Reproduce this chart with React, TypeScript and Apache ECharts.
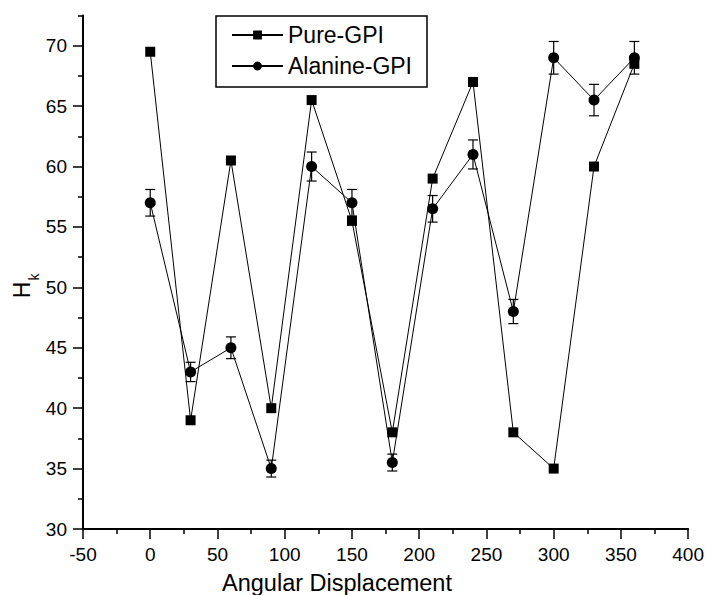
import React, { useEffect, useRef } from "react";
import * as echarts from "echarts";

const angles = [0, 30, 60, 90, 120, 150, 180, 210, 240, 270, 300, 330, 360];
const pureGPI = [69.5, 39, 60.5, 40, 65.5, 55.5, 38, 59, 67, 38, 35, 60, 68.5];
const alanineGPI = [57, 43, 45, 35, 60, 57, 35.5, 56.5, 61, 48, 69, 65.5, 69];
const alanineErr = [1.1, 0.8, 0.9, 0.7, 1.2, 1.1, 0.7, 1.1, 1.2, 1.0, 1.35, 1.3, 1.35];
const yMajorTicks = [30, 35, 40, 45, 50, 55, 60, 65, 70];
const yMinorTicks = [32.5, 37.5, 42.5, 47.5, 52.5, 57.5, 62.5, 67.5, 72.5];

const FONT = "'Liberation Sans', Arial, sans-serif";

export default function App() {
  const ref = useRef<HTMLDivElement>(null);
  useEffect(() => {
    if (!ref.current) return;
    const chart = echarts.init(ref.current, null, { renderer: "svg" });
    const axisLine = { show: true, onZero: false, lineStyle: { color: "#000", width: 2 } };
    const option: any = {
      animation: false,
      backgroundColor: "#fff",
      grid: { left: 83, right: 18, top: 15.5, bottom: 66, containLabel: false },
      legend: {
        data: ["Pure-GPI", "Alanine-GPI"],
        orient: "vertical",
        left: 216,
        top: 16,
        padding: [6, 15, 8, 15],
        itemGap: 5,
        itemWidth: 51,
        itemHeight: 11,
        borderColor: "#000",
        borderWidth: 1.5,
        textStyle: { fontSize: 23, fontFamily: FONT, color: "#000", lineHeight: 26 },
      },
      xAxis: {
        type: "value",
        min: -50,
        max: 400,
        interval: 50,
        axisLine,
        axisTick: { show: true, inside: false, length: 10, lineStyle: { color: "#000", width: 1.5 } },
        minorTick: { show: true, splitNumber: 2, length: 5, lineStyle: { color: "#000", width: 1.5 } },
        splitLine: { show: false },
        minorSplitLine: { show: false },
        axisLabel: { margin: 16, fontSize: 19, fontFamily: FONT, color: "#000" },
      },
      yAxis: [
        {
          type: "value",
          min: 30,
          max: 72.5,
          interval: 5,
          axisLine,
          axisTick: {
            show: true,
            length: 10,
            customValues: yMajorTicks,
            lineStyle: { color: "#000", width: 1.5 },
          },
          axisLabel: {
            margin: 16,
            fontSize: 19,
            fontFamily: FONT,
            color: "#000",
            customValues: yMajorTicks,
          },
          splitLine: { show: false },
        },
        {
          type: "value",
          min: 30,
          max: 72.5,
          position: "left",
          axisLine: { show: false, onZero: false },
          axisTick: {
            show: true,
            length: 5,
            customValues: yMinorTicks,
            lineStyle: { color: "#000", width: 1.5 },
          },
          axisLabel: { show: false },
          splitLine: { show: false },
        },
      ],
      graphic: [
        {
          type: "text",
          x: 337,
          y: 583,
          style: {
            text: "Angular Displacement",
            fontSize: 23.5,
            fontFamily: FONT,
            fill: "#000",
            textAlign: "center",
            textVerticalAlign: "middle",
          },
        },
        {
          type: "group",
          x: 22,
          y: 290,
          rotation: Math.PI / 2,
          children: [
            {
              type: "text",
              x: 0,
              y: 0,
              style: {
                text: "H",
                fontSize: 23,
                fontFamily: FONT,
                fill: "#000",
                textAlign: "center",
                textVerticalAlign: "middle",
              },
            },
            {
              type: "text",
              x: 13,
              y: 12,
              style: {
                text: "k",
                fontSize: 14,
                fontFamily: FONT,
                fill: "#000",
                textAlign: "center",
                textVerticalAlign: "middle",
              },
            },
          ],
        },
      ],
      series: [
        {
          name: "Pure-GPI",
          type: "line",
          data: angles.map((a, i) => [a, pureGPI[i]]),
          symbol: "rect",
          symbolSize: 10,
          itemStyle: { color: "#000" },
          lineStyle: { color: "#000", width: 1 },
          z: 3,
        },
        {
          name: "Alanine-GPI",
          type: "line",
          data: angles.map((a, i) => [a, alanineGPI[i]]),
          symbol: "circle",
          symbolSize: 11,
          itemStyle: { color: "#000" },
          lineStyle: { color: "#000", width: 1 },
          z: 4,
        },
        {
          name: "Alanine-GPI err",
          type: "custom",
          data: angles.map((a, i) => [a, alanineGPI[i], alanineErr[i]]),
          encode: { x: 0, y: 1 },
          z: 2,
          renderItem: (params: any, api: any) => {
            const x = api.value(0);
            const y = api.value(1);
            const e = api.value(2);
            const top = api.coord([x, y + e]);
            const bot = api.coord([x, y - e]);
            const st = { stroke: "#000", lineWidth: 1.2 };
            return {
              type: "group",
              children: [
                { type: "line", shape: { x1: top[0], y1: top[1], x2: bot[0], y2: bot[1] }, style: st },
                { type: "line", shape: { x1: top[0] - 5, y1: top[1], x2: top[0] + 5, y2: top[1] }, style: st },
                { type: "line", shape: { x1: bot[0] - 5, y1: bot[1], x2: bot[0] + 5, y2: bot[1] }, style: st },
              ],
            };
          },
        },
      ],
    };
    chart.setOption(option);
    return () => chart.dispose();
  }, []);
  return (
    <div
      ref={ref}
      style={{ position: "fixed", left: 0, top: 0, width: 707, height: 595, background: "#fff" }}
    />
  );
}
